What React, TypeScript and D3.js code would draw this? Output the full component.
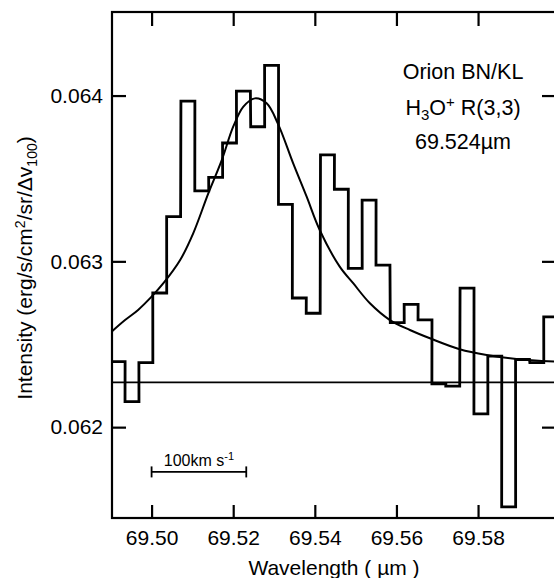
import * as d3 from "d3";
import { useEffect, useRef } from "react";

// spectrum bins (centre wavelength in micron, intensity)
const binCenters = [
  69.4918, 69.4952, 69.4986, 69.502, 69.5054, 69.5089, 69.5123, 69.5157,
  69.5191, 69.5225, 69.526, 69.5294, 69.5328, 69.5362, 69.5396, 69.5431,
  69.5465, 69.5499, 69.5533, 69.5567, 69.5602, 69.5636, 69.567, 69.5704,
  69.5738, 69.5773, 69.5807, 69.5841, 69.5875, 69.5909, 69.5944, 69.5978,
];
const binValues = [
  0.062395, 0.062154, 0.062389, 0.062809, 0.06327, 0.063967, 0.063425, 0.063506,
  0.063714, 0.064027, 0.063812, 0.064182, 0.063344, 0.062779, 0.062687, 0.063642,
  0.063435, 0.062958, 0.063369, 0.062977, 0.06263, 0.062741, 0.062647, 0.062261,
  0.062248, 0.062838, 0.06208, 0.062428, 0.061519, 0.062408, 0.062389, 0.062665,
];
const binWidth = 0.00342;

// line fit
const fitWavelengths = [
  69.4904, 69.4935, 69.4967, 69.5, 69.5029, 69.507, 69.5102, 69.5139, 69.5172,
  69.52, 69.5225, 69.5253, 69.5282, 69.531, 69.5347, 69.538, 69.5412, 69.5461,
  69.5494, 69.5535, 69.5584, 69.5633, 69.5682, 69.5755, 69.5821, 69.5894, 69.5988,
];
const fitValues = [
  0.06258, 0.062646, 0.062707, 0.062787, 0.062868, 0.063008, 0.063169, 0.06341, 0.063611,
  0.063812, 0.063933, 0.063983, 0.063953, 0.063828, 0.063591, 0.06339, 0.063189, 0.062968,
  0.062868, 0.062747, 0.062646, 0.062586, 0.062536, 0.06247, 0.062435, 0.062411, 0.062395,
];

const continuum = 0.06227;
const xTicks = [69.5, 69.52, 69.54, 69.56, 69.58];
const yTicks = [0.062, 0.063, 0.064];
const xDomain = [69.4903, 69.5991];
const yDomain = [0.061452, 0.064504];
const scaleBarRange = [69.5, 69.5232];
const scaleBarLevel = 0.06173;

const FONT = "'Liberation Sans', Arial, Helvetica, sans-serif";

function Axis({ make, scale, ticks, transform, format, size, padding }) {
  const ref = useRef(null);

  useEffect(() => {
    if (ref.current) {
      const axis = make(scale)
        .tickValues(ticks)
        .tickSizeInner(-size)
        .tickSizeOuter(0)
        .tickPadding(padding)
        .tickFormat(format);
      const g = d3.select(ref.current);
      g.call(axis);
      g.select(".domain").remove();
      g.attr("font-size", 21).attr("font-family", FONT);
      g.selectAll(".tick line").attr("stroke-width", 2.2);
      g.selectAll(".tick text").attr("fill", "#000");
    }
  }, [ref, scale]);

  return <g ref={ref} transform={transform} />;
}

export default function App() {
  const width = 554;
  const height = 578;
  const left = 112;
  const top = 12;
  const right = 556;
  const bottom = 518;

  const x = d3.scaleLinear().domain(xDomain).range([left, right]);
  const y = d3.scaleLinear().domain(yDomain).range([bottom, top]);

  const steps = binCenters.flatMap((c, i) => [
    [c - binWidth / 2, binValues[i]],
    [c + binWidth / 2, binValues[i]],
  ]);
  const stepLine = d3.line().x(d => x(d[0])).y(d => y(d[1]));

  const fitLine = d3
    .line()
    .x(d => x(d[0]))
    .y(d => y(d[1]))
    .curve(d3.curveCatmullRom.alpha(0.5));
  const fit = fitWavelengths.map((w, i) => [w, fitValues[i]]);

  const barY = y(scaleBarLevel);
  const barX0 = x(scaleBarRange[0]);
  const barX1 = x(scaleBarRange[1]);

  return (
    <svg
      width={width}
      height={height}
      style={{ position: "absolute", left: 0, top: 0, background: "#fff" }}
      fontFamily={FONT}
    >
      <defs>
        <clipPath id="plot-area">
          <rect x={left} y={top} width={right - left} height={bottom - top} />
        </clipPath>
      </defs>

      <g clipPath="url(#plot-area)" fill="none" stroke="#000">
        <line x1={left} x2={right} y1={y(continuum)} y2={y(continuum)} strokeWidth={1.8} />
        <path d={fitLine(fit)} strokeWidth={2} />
        <path d={stepLine(steps)} strokeWidth={2.8} strokeLinejoin="miter" />
      </g>

      <rect x={left} y={top} width={right - left} height={bottom - top}
        fill="none" stroke="#000" strokeWidth={2.2} />

      <Axis make={d3.axisBottom} scale={x} ticks={xTicks} transform={`translate(0,${bottom})`}
        format={d3.format(".2f")} size={13} padding={12.5} />
      <Axis make={d3.axisTop} scale={x} ticks={xTicks} transform={`translate(0,${top})`}
        format={() => ""} size={14} padding={0} />
      <Axis make={d3.axisLeft} scale={y} ticks={yTicks} transform={`translate(${left},0)`}
        format={d3.format(".3f")} size={14} padding={9} />
      <Axis make={d3.axisRight} scale={y} ticks={yTicks} transform={`translate(${right},0)`}
        format={() => ""} size={14} padding={0} />

      {/* velocity scale bar */}
      <g stroke="#000" strokeWidth={1.8}>
        <line x1={barX0} x2={barX1} y1={barY} y2={barY} />
        <line x1={barX0} x2={barX0} y1={barY - 5.5} y2={barY + 5.5} />
        <line x1={barX1} x2={barX1} y1={barY - 5.5} y2={barY + 5.5} />
      </g>
      <text x={(barX0 + barX1) / 2} y={barY - 6} textAnchor="middle" fontSize={16}>
        100km s<tspan dy={-6} fontSize={11}>-1</tspan>
      </text>

      {/* line label */}
      <g textAnchor="middle" fontSize={21.5}>
        <text x={463} y={79}>Orion BN/KL</text>
        <text x={463} y={115}>
          H<tspan dy={5} fontSize={15}>3</tspan>
          <tspan dy={-5}>O</tspan>
          <tspan dy={-8} fontSize={15}>+</tspan>
          <tspan dy={8}> R(3,3)</tspan>
        </text>
        <text x={463} y={149}>69.524µm</text>
      </g>

      <text x={(left + right) / 2} y={575} textAnchor="middle" fontSize={21}>
        Wavelength ( µm )
      </text>
      <text transform={`translate(31.5,${(top + bottom) / 2 + 3}) rotate(-90)`}
        textAnchor="middle" fontSize={21}>
        Intensity (erg/s/cm<tspan dy={-7} fontSize={14}>2</tspan>
        <tspan dy={7}>/sr/Δv</tspan>
        <tspan dy={5} fontSize={14}>100</tspan>
        <tspan dy={-5}>)</tspan>
      </text>
    </svg>
  );
}
